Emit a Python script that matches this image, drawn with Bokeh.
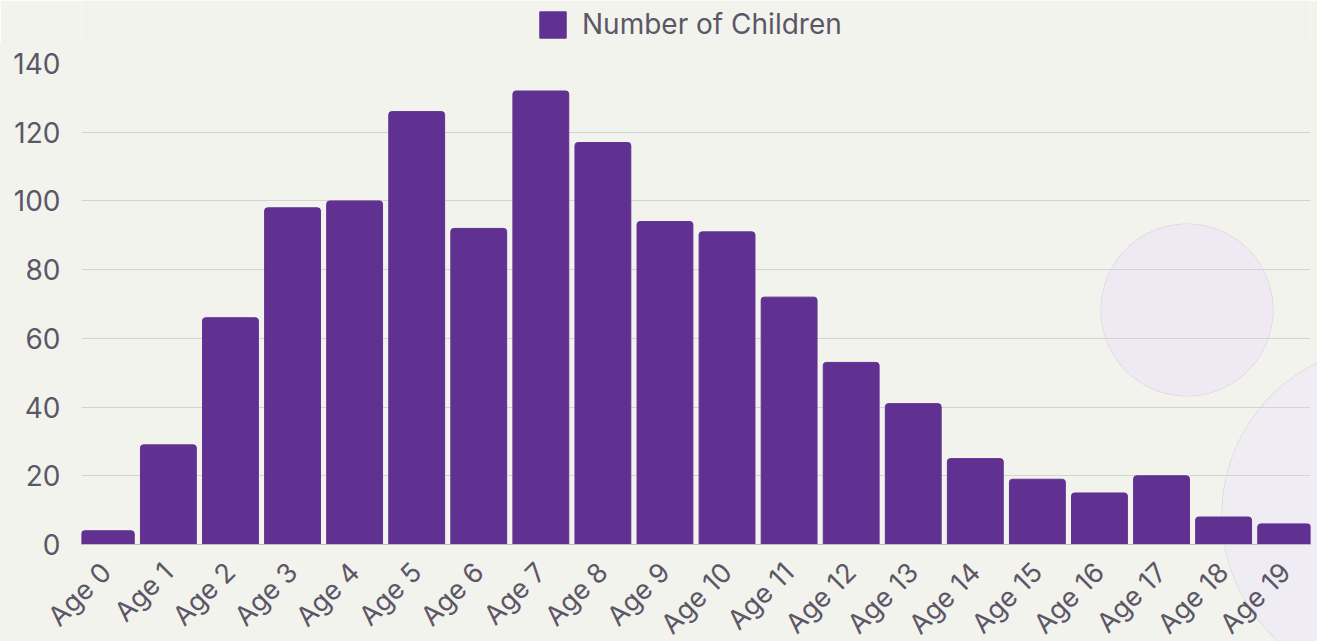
import math
from bokeh.plotting import figure
from bokeh.layouts import column
from bokeh.models import ColumnDataSource, Legend, LegendItem, SingleIntervalTicker
from bokeh.embed import file_html
from bokeh.resources import INLINE

categories = ["Age 0", "Age 1", "Age 2", "Age 3", "Age 4", "Age 5", "Age 6", "Age 7", "Age 8", "Age 9",
              "Age 10", "Age 11", "Age 12", "Age 13", "Age 14", "Age 15", "Age 16", "Age 17", "Age 18", "Age 19"]
children = [4, 29, 66, 98, 100, 126, 92, 132, 117, 94, 91, 72, 53, 41, 25, 19, 15, 20, 8, 6]
series_name = "Number of Children"

BG = "#f3f3ee"
BAR = "#613192"
TXT = "#5c5767"
FONT = "Inter"

src = ColumnDataSource(dict(cat=categories, val=children))

# ---- legend strip on top (its frame is aligned with the main chart's frame) ----
lf = figure(width=1317, height=43, x_range=categories, y_range=(500, 501),
            x_axis_type=None, y_axis_type=None, output_backend="svg", toolbar_location=None,
            background_fill_color=BG, border_fill_color=BG, outline_line_color=None,
            min_border=0)
lf.grid.visible = False
# same series, kept below the strip's visible range: only its legend swatch shows
proxy = lf.vbar(x="cat", top="val", width=0.9, source=src, fill_color=BAR, line_color=BAR)
legend = Legend(items=[LegendItem(label=series_name, renderers=[proxy])],
                orientation="horizontal", location=(455, 2),
                label_text_font=FONT, label_text_font_size="28px", label_text_color=TXT,
                glyph_width=33, glyph_height=33, label_standoff=13,
                background_fill_alpha=0, border_line_color=None,
                padding=0, margin=0, spacing=0)
lf.add_layout(legend)

# ---- main chart ----
p = figure(x_range=categories, y_range=(0, 140), frame_width=1229, frame_height=481,
           output_backend="svg", toolbar_location=None,
           background_fill_alpha=0, border_fill_alpha=0, outline_line_color=None,
           min_border_left=81, min_border_right=7, min_border_top=20, min_border_bottom=97)

# decorative background circles, painted behind the transparent canvas
p.styles = {
    "background": (
        "radial-gradient(circle 87px at 1187px 267px, #efe9f4 85.5px, #dcd8de 86px, rgba(0,0,0,0) 87px), "
        "radial-gradient(circle 170px at 1391px 472px, #efedf3 168.5px, #dddbd8 169px, rgba(0,0,0,0) 170px), "
        + BG
    )
}

p.vbar(x="cat", top="val", width=0.9, source=src, fill_color=BAR, line_color=BAR,
       border_radius=(3, 3, 0, 0))

p.xgrid.grid_line_color = None
p.ygrid.grid_line_color = "#d4d4d4"
p.ygrid.grid_line_width = 1
p.yaxis.ticker = SingleIntervalTicker(interval=20)
p.yaxis.axis_line_color = None
p.yaxis.major_tick_line_color = None
p.yaxis.minor_tick_line_color = None
p.yaxis.major_label_text_font = FONT
p.yaxis.major_label_text_font_size = "28px"
p.yaxis.major_label_text_color = TXT
p.yaxis.major_label_standoff = 15

p.xaxis.axis_line_color = "#bdbdbd"
p.xaxis.major_tick_line_color = None
p.xaxis.minor_tick_line_color = None
p.xaxis.major_label_orientation = math.pi / 4
p.xaxis.major_label_text_font = FONT
p.xaxis.major_label_text_font_size = "27px"
p.xaxis.major_label_text_color = TXT
p.xaxis.major_label_standoff = 17
for rng in (p.x_range, lf.x_range):
    rng.range_padding = -0.1
    rng.range_padding_units = "absolute"
    rng.factor_padding = 0.0

layout = column(lf, p, spacing=0)
open("out.html", "w").write(file_html(layout, INLINE))
